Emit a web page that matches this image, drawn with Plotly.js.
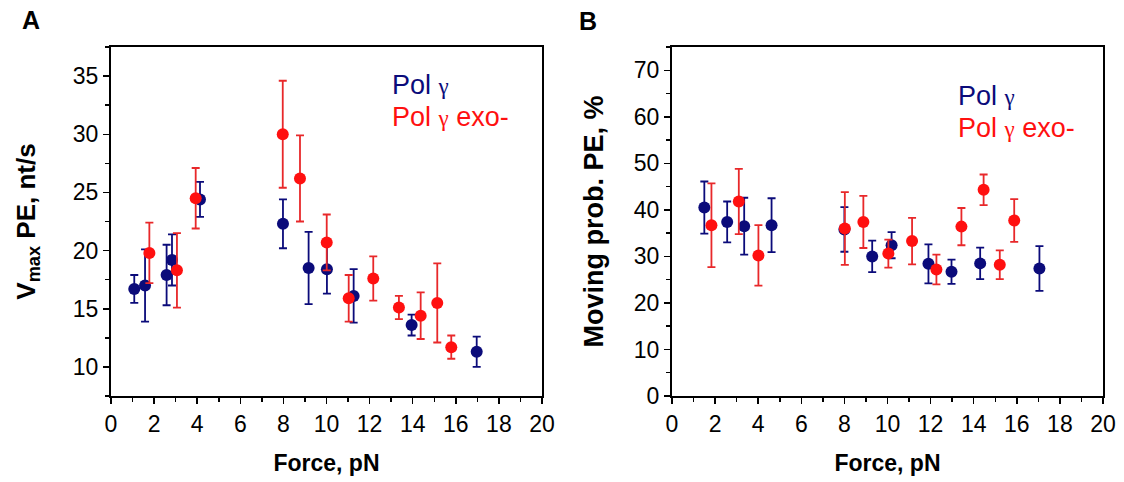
<!DOCTYPE html>
<html>
<head>
<meta charset="utf-8">
<script src="https://cdn.plot.ly/plotly-3.0.1.min.js"></script>
<style>html,body{margin:0;padding:0;background:#fff;}</style>
</head>
<body>
<div id="chart" style="width:1124px;height:482px;"></div>
<script>
// Panel A: Vmax PE (nt/s) vs Force (pN)
const aPolX   = [1.08, 1.58, 2.58, 2.83, 4.13, 7.98, 9.17, 10.02, 11.26, 13.95, 16.97];
const aPolY   = [16.7, 17.0, 17.9, 19.2, 24.4, 22.3, 18.5, 18.4, 16.1, 13.6, 11.3];
const aPolErr = [1.2, 3.1, 2.6, 2.2, 1.5, 2.1, 3.1, 2.1, 2.3, 0.9, 1.3];

const aExoX   = [1.78, 3.06, 3.93, 7.97, 8.77, 10.01, 11.03, 12.17, 13.36, 14.37, 15.14, 15.79];
const aExoY   = [19.8, 18.3, 24.5, 30.0, 26.2, 20.7, 15.9, 17.6, 15.1, 14.4, 15.5, 11.7];
const aExoErr = [2.6, 3.2, 2.6, 4.6, 3.7, 2.4, 2.0, 1.9, 1.0, 2.0, 3.4, 1.0];

// Panel B: Moving probability PE (%) vs Force (pN)
const bPolX   = [1.5, 2.56, 3.35, 4.62, 8.0, 9.29, 10.19, 11.9, 12.97, 14.3, 17.05];
const bPolY   = [40.5, 37.4, 36.5, 36.7, 35.8, 30.0, 32.4, 28.4, 26.7, 28.5, 27.4];
const bPolErr = [5.6, 4.4, 6.1, 5.8, 4.8, 3.4, 2.8, 4.2, 2.6, 3.4, 4.8];

const bExoX   = [1.83, 3.1, 4.01, 8.02, 8.88, 10.04, 11.14, 12.27, 13.43, 14.46, 15.21, 15.88];
const bExoY   = [36.7, 41.8, 30.2, 36.0, 37.4, 30.6, 33.3, 27.2, 36.4, 44.3, 28.2, 37.7];
const bExoErr = [9.0, 7.0, 6.5, 7.8, 5.6, 3.0, 5.0, 3.2, 4.0, 3.3, 3.1, 4.6];

const seriesNames = ['Pol γ', 'Pol γ exo-'];
const xTitle = 'Force, pN';
const yTitleA = 'V<sub>max</sub> PE, nt/s';
const yTitleB = 'Moving prob. PE, %';
const panelLabels = ['A', 'B'];

const BLUE = '#0b0b7a';
const RED = '#ff1010';
const RED_ERR = '#e8282a';
const FONT = 'Liberation Sans, Arial, sans-serif';

function series(x, y, err, color, errColor, xa, ya, name) {
  return {
    type: 'scatter', mode: 'markers', x: x, y: y, name: name,
    xaxis: xa, yaxis: ya, showlegend: false,
    marker: {color: color, size: 12},
    error_y: {type: 'data', array: err, visible: true, color: errColor, thickness: 1.8, width: 4}
  };
}

const data = [
  series(aPolX, aPolY, aPolErr, BLUE, BLUE, 'x', 'y', seriesNames[0]),
  series(aExoX, aExoY, aExoErr, RED, RED_ERR, 'x', 'y', seriesNames[1]),
  series(bPolX, bPolY, bPolErr, BLUE, BLUE, 'x2', 'y2', seriesNames[0]),
  series(bExoX, bExoY, bExoErr, RED, RED_ERR, 'x2', 'y2', seriesNames[1])
];

const W = 1124, H = 482;
const yDom = [1 - 396/H, 1 - 47/H];

function xAxis(domain, anchor) {
  return {
    domain: domain, anchor: anchor, range: [0, 20], dtick: 2, tick0: 0,
    ticks: 'outside', ticklen: 6, tickwidth: 1.5, tickcolor: '#000',
    minor: {dtick: 1, ticks: 'outside', ticklen: 4, tickwidth: 1.5, tickcolor: '#000'},
    showline: true, mirror: true, linecolor: '#000', linewidth: 2,
    showgrid: false, zeroline: false,
    tickfont: {family: FONT, size: 23, color: '#000'},
    title: {text: '<b>' + xTitle + '</b>', font: {family: FONT, size: 23, color: '#000'}, standoff: 19}
  };
}
function yAxis(domain, anchor, range, dtick, minor, title, size, standoff) {
  return {
    domain: domain, anchor: anchor, range: range, dtick: dtick, tick0: 0,
    ticks: 'outside', ticklen: 6, tickwidth: 1.5, tickcolor: '#000',
    minor: {dtick: minor, ticks: 'outside', ticklen: 4, tickwidth: 1.5, tickcolor: '#000'},
    showline: true, mirror: true, linecolor: '#000', linewidth: 2,
    showgrid: false, zeroline: false,
    tickfont: {family: FONT, size: 23, color: '#000'},
    title: {text: '<b>' + title + '</b>', font: {family: FONT, size: size, color: '#000'}, standoff: standoff}
  };
}

const gamma = () => '<span style="font-family:Liberation Serif;font-size:23px">γ</span>';
function legendAnn(xref, yref, x, y, text, color) {
  return {xref: xref, yref: yref, x: x, y: y, text: text, showarrow: false,
    xanchor: 'left', yanchor: 'middle', font: {family: FONT, size: 27, color: color}};
}

const layout = {
  width: W, height: H, autosize: false,
  margin: {l: 0, r: 0, t: 0, b: 0},
  paper_bgcolor: '#fff', plot_bgcolor: '#fff',
  xaxis: xAxis([111/W, 542/W], 'y'),
  yaxis: yAxis(yDom, 'x', [7.5, 37.5], 5, 2.5, yTitleA, 26, 30),
  xaxis2: xAxis([672/W, 1103/W], 'y2'),
  yaxis2: yAxis(yDom, 'x2', [0, 75], 10, 5, yTitleB, 27, 22),
  annotations: [
    legendAnn('x', 'y', 12.95, 34.2, 'Pol ' + gamma(), BLUE),
    legendAnn('x', 'y', 12.95, 31.5, 'Pol ' + gamma() + ' exo-', RED),
    legendAnn('x2', 'y2', 13.2, 64.5, 'Pol ' + gamma(), BLUE),
    legendAnn('x2', 'y2', 13.2, 57.6, 'Pol ' + gamma() + ' exo-', RED),
    {xref: 'paper', yref: 'paper', x: 31/W, y: 1 - 20/H, text: '<b>' + panelLabels[0] + '</b>',
     showarrow: false, xanchor: 'center', yanchor: 'middle', font: {family: FONT, size: 25, color: '#000'}},
    {xref: 'paper', yref: 'paper', x: 588/W, y: 1 - 21/H, text: '<b>' + panelLabels[1] + '</b>',
     showarrow: false, xanchor: 'center', yanchor: 'middle', font: {family: FONT, size: 25, color: '#000'}}
  ]
};

Plotly.newPlot('chart', data, layout, {displayModeBar: false, staticPlot: true});
</script>
</body>
</html>
